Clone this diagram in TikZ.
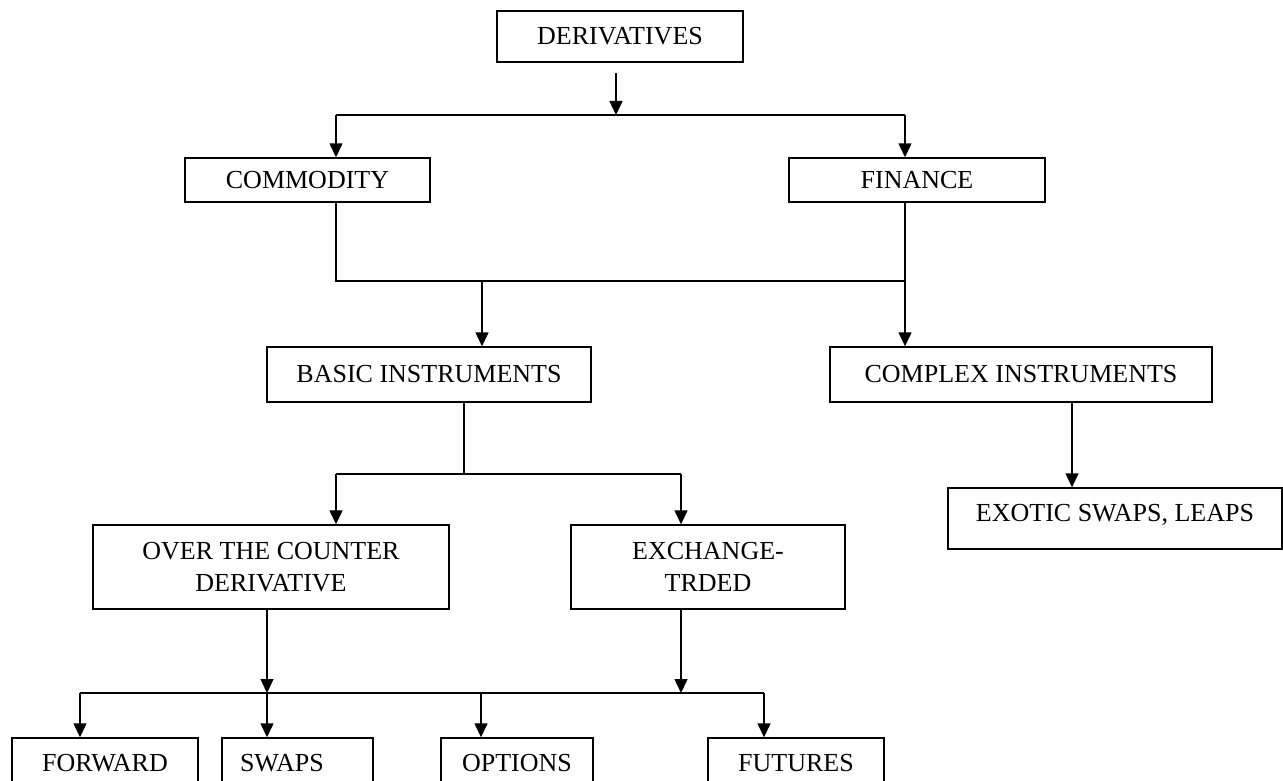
\documentclass[tikz,border=0pt]{standalone}
\usepackage{fontspec}
\setmainfont{Liberation Serif}
\usetikzlibrary{positioning,arrows.meta}

\begin{document}
\begin{tikzpicture}[
  x=0.02cm, y=-0.02cm,
  font=\fontsize{14.8}{18}\selectfont,
  box/.style={draw, line width=0.8pt, inner sep=2pt, align=center, anchor=center},
  link/.style={line width=0.8pt},
  >={Triangle[length=2.8mm, width=2.6mm]}
]
\useasboundingbox (0,0) rectangle (1283,780);

% TOP
\node[box, minimum width=4.92cm, minimum height=1.02cm] (deriv) at (620,36.5) {DERIVATIVES};
\node[box, minimum width=4.9cm, minimum height=0.88cm] (comm) at (307.5,180) {COMMODITY};
\node[box, minimum width=5.12cm, minimum height=0.88cm] (fin) at (917,180) {FINANCE};

\coordinate (t0) at (616,73);
\coordinate (t1) at (616,115);
\coordinate (tA) at (336,115);
\coordinate (tB) at (905,115);
\draw[link,->] (t0) -- (t1);
\draw[link] (tA) -- (tB);
\draw[link,->] (tA) -- (tA |- comm.north);
\draw[link,->] (tB) -- (tB |- fin.north);

% INSTRUMENTS
\node[box, minimum width=6.48cm, minimum height=1.1cm] (basic) at (429,374.5) {BASIC INSTRUMENTS};
\node[box, minimum width=7.64cm, minimum height=1.1cm] (complex) at (1021,374.5) {COMPLEX INSTRUMENTS};

\coordinate (mA) at (336,281);
\coordinate (mB) at (905,281);
\coordinate (mC) at (482,281);
\draw[link] (mA |- comm.south) -- (mA) -- (mB) -- (mB |- fin.south);
\draw[link,->] (mC) -- (mC |- basic.north);
\draw[link,->] (mB) -- (mB |- complex.north);

% COMPLEX BRANCH
\node[box, minimum width=6.68cm, minimum height=1.22cm, text depth=0.24cm] (exotic) at (1115,518.5) {EXOTIC SWAPS, LEAPS};
\coordinate (xA) at (1072,0);
\draw[link,->] (xA |- complex.south) -- (xA |- exotic.north);

% BASIC BRANCH
\node[box, minimum width=7.12cm, minimum height=1.68cm] (otc) at (271,567) {OVER THE COUNTER\\DERIVATIVE};
\node[box, minimum width=5.48cm, minimum height=1.68cm] (exch) at (708,567) {EXCHANGE-\\TRDED};

\coordinate (bA) at (464,474);
\coordinate (bL) at (336,474);
\coordinate (bR) at (681,474);
\draw[link] (bA |- basic.south) -- (bA);
\draw[link] (bL) -- (bR);
\draw[link,->] (bL) -- (bL |- otc.north);
\draw[link,->] (bR) -- (bR |- exch.north);

% BOTTOM ROW
\node[box, minimum width=3.72cm, minimum height=1.0cm] (fwd) at (105,763) {FORWARD};
\node[box, minimum width=3.02cm, minimum height=1.0cm, inner xsep=0.36cm, text width=2.3cm, align=left] (swaps) at (297.5,763) {SWAPS};
\node[box, minimum width=3.04cm, minimum height=1.0cm] (opt) at (517,763) {OPTIONS};
\node[box, minimum width=3.52cm, minimum height=1.0cm] (fut) at (796,763) {FUTURES};

\coordinate (d0) at (80,693);
\coordinate (d1) at (267,693);
\coordinate (d2) at (481,693);
\coordinate (d3) at (764,693);
\coordinate (d4) at (681,693);
\draw[link] (d0) -- (d3);
\draw[link,->] (d1 |- otc.south) -- (d1);
\draw[link,->] (d4 |- exch.south) -- (d4);
\draw[link,->] (d0) -- (d0 |- fwd.north);
\draw[link,->] (d1) -- (d1 |- swaps.north);
\draw[link,->] (d2) -- (d2 |- opt.north);
\draw[link,->] (d3) -- (d3 |- fut.north);

\end{tikzpicture}
\end{document}
